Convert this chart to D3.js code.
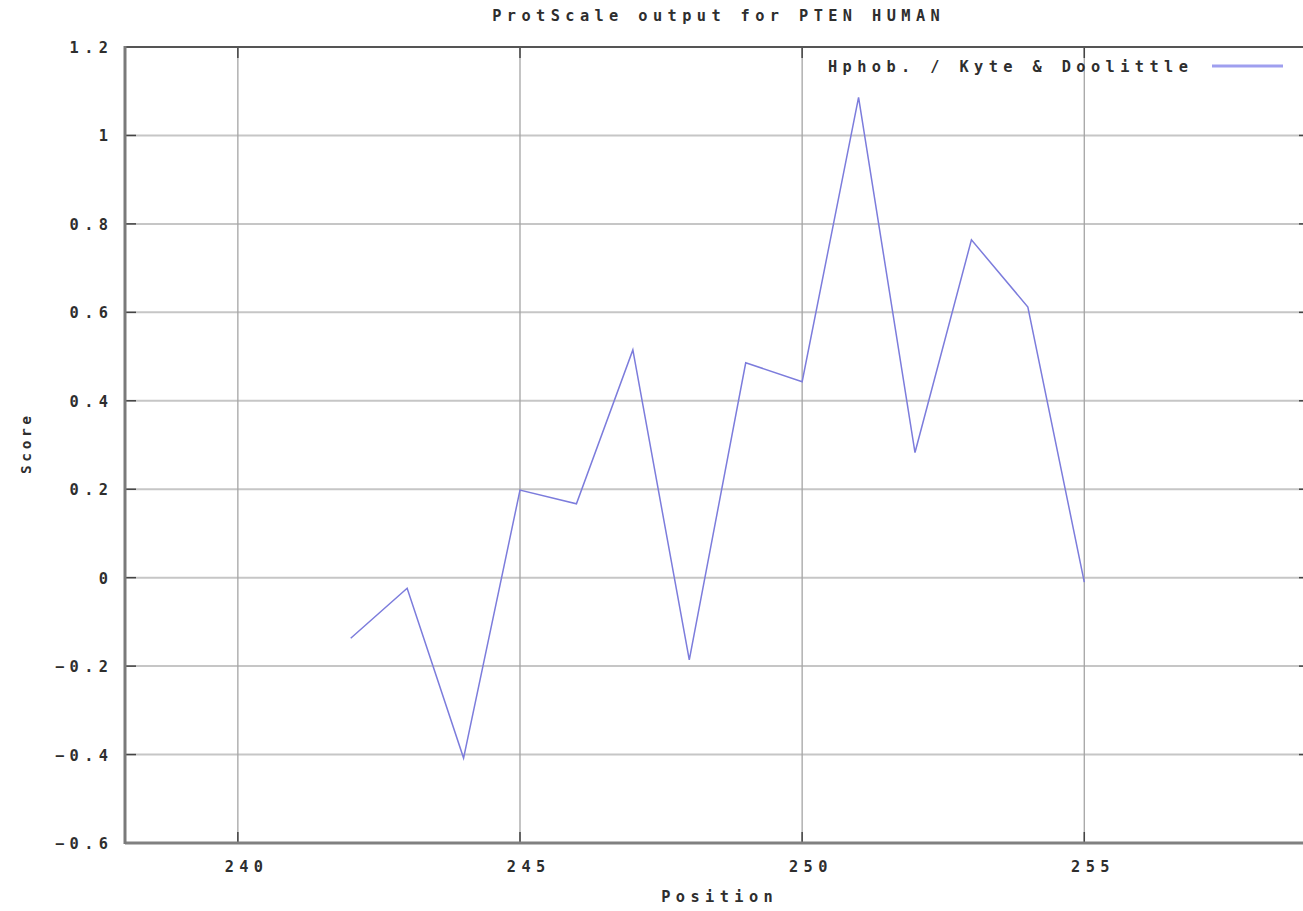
<!DOCTYPE html>
<html>
<head>
<meta charset="utf-8">
<script src="https://cdn.jsdelivr.net/npm/d3@7"></script>
<style>
  html, body { margin: 0; padding: 0; background: #fff; }
  svg { display: block; }
  text { font-family: "DejaVu Sans Mono", "Liberation Mono", monospace; font-weight: bold; fill: #2e2e2e; }
</style>
</head>
<body>
<svg id="chart" width="1303" height="911"></svg>
<script>
// Kyte & Doolittle hydropathy scores along PTEN (residues 242-255)
const positions = [242, 243, 244, 245, 246, 247, 248, 249, 250, 251, 252, 253, 254, 255];
const scores = [-0.137, -0.024, -0.408, 0.198, 0.167, 0.515, -0.186, 0.486, 0.443, 1.086, 0.283, 0.764, 0.612, -0.01];

const xTicks = [240, 245, 250, 255];
const yTicks = [-0.6, -0.4, -0.2, 0, 0.2, 0.4, 0.6, 0.8, 1, 1.2];
const xDomain = [238, 259];
const yDomain = [-0.6, 1.2];

const titleText = "ProtScale output for PTEN HUMAN";
const xLabel = "Position";
const yLabel = "Score";
const seriesName = "Hphob. / Kyte & Doolittle";

const LS = 5.4;        // letter spacing used for all labels
const FS = 15.3;       // font size

const svg = d3.select("#chart");
const plot = { left: 125, right: 1310, top: 47, bottom: 843 };

const x = d3.scaleLinear().domain(xDomain).range([plot.left, plot.right]);
const y = d3.scaleLinear().domain(yDomain).range([plot.bottom, plot.top]);

const lineColor = "#7c7cdc";

// horizontal grid
svg.append("g").selectAll("line").data(yTicks.filter(d => d > yDomain[0] && d < yDomain[1]))
  .join("line")
  .attr("x1", plot.left).attr("x2", plot.right)
  .attr("y1", d => y(d)).attr("y2", d => y(d))
  .attr("stroke", "#c6c6c6").attr("stroke-width", 2);

// vertical grid
svg.append("g").selectAll("line").data(xTicks)
  .join("line")
  .attr("x1", d => x(d)).attr("x2", d => x(d))
  .attr("y1", plot.top).attr("y2", plot.bottom)
  .attr("stroke", "#a4a4a4").attr("stroke-width", 1.3);

// tick marks on all four sides (inward)
const tickLen = 11;
const ticks = svg.append("g").attr("stroke", "#444").attr("stroke-width", 1.5);
xTicks.forEach(t => {
  ticks.append("line").attr("x1", x(t)).attr("x2", x(t)).attr("y1", plot.bottom).attr("y2", plot.bottom - tickLen);
  ticks.append("line").attr("x1", x(t)).attr("x2", x(t)).attr("y1", plot.top).attr("y2", plot.top + tickLen);
});
yTicks.forEach(t => {
  ticks.append("line").attr("x1", plot.left).attr("x2", plot.left + tickLen).attr("y1", y(t)).attr("y2", y(t));
  ticks.append("line").attr("x1", plot.right).attr("x2", plot.right - tickLen).attr("y1", y(t)).attr("y2", y(t));
});

// frame
svg.append("line").attr("x1", plot.left).attr("x2", plot.right).attr("y1", plot.top).attr("y2", plot.top)
  .attr("stroke", "#555").attr("stroke-width", 2);
svg.append("line").attr("x1", plot.left).attr("x2", plot.right).attr("y1", plot.bottom).attr("y2", plot.bottom)
  .attr("stroke", "#808080").attr("stroke-width", 3);
svg.append("line").attr("x1", plot.left).attr("x2", plot.left).attr("y1", plot.top - 1).attr("y2", plot.bottom + 1)
  .attr("stroke", "#7a7a7a").attr("stroke-width", 3);
svg.append("line").attr("x1", plot.right).attr("x2", plot.right).attr("y1", plot.top).attr("y2", plot.bottom)
  .attr("stroke", "#555").attr("stroke-width", 2);

// data line
const line = d3.line().x(d => x(d[0])).y(d => y(d[1]));
svg.append("path")
  .datum(positions.map((p, i) => [p, scores[i]]))
  .attr("d", line)
  .attr("fill", "none")
  .attr("stroke", lineColor)
  .attr("stroke-width", 1.5)
  .attr("stroke-linejoin", "miter");

function label(txt, px, py, anchor, opts = {}) {
  const ls = opts.ls ?? LS;
  let dx = 0;
  if (anchor === "end") dx = ls;
  else if (anchor === "middle") dx = ls / 2;
  const t = svg.append("text")
    .attr("x", px + dx).attr("y", py)
    .attr("text-anchor", anchor)
    .attr("font-size", opts.fs ?? FS)
    .style("letter-spacing", ls + "px")
    .text(txt);
  if (opts.rotate) t.attr("transform", `rotate(${opts.rotate},${px},${py})`);
  return t;
}

const fmt = d => d3.format("")(+d.toFixed(1));

// y tick labels
yTicks.forEach(t => label(fmt(t), 108, y(t) + 6, "end"));
// x tick labels
xTicks.forEach(t => label(String(t), x(t) + 6, plot.bottom + 29, "middle"));

// titles
label(titleText, 716, 21, "middle");
label(xLabel, 717, 902, "middle");
label(yLabel, 31, 445, "middle", { rotate: -90, ls: 3.6, fs: 14.5 });

// legend
label(seriesName, 828, 72, "start");
svg.append("line")
  .attr("x1", 1212).attr("x2", 1283).attr("y1", 66).attr("y2", 66)
  .attr("stroke", "#9f9fef").attr("stroke-width", 3);
</script>
</body>
</html>
